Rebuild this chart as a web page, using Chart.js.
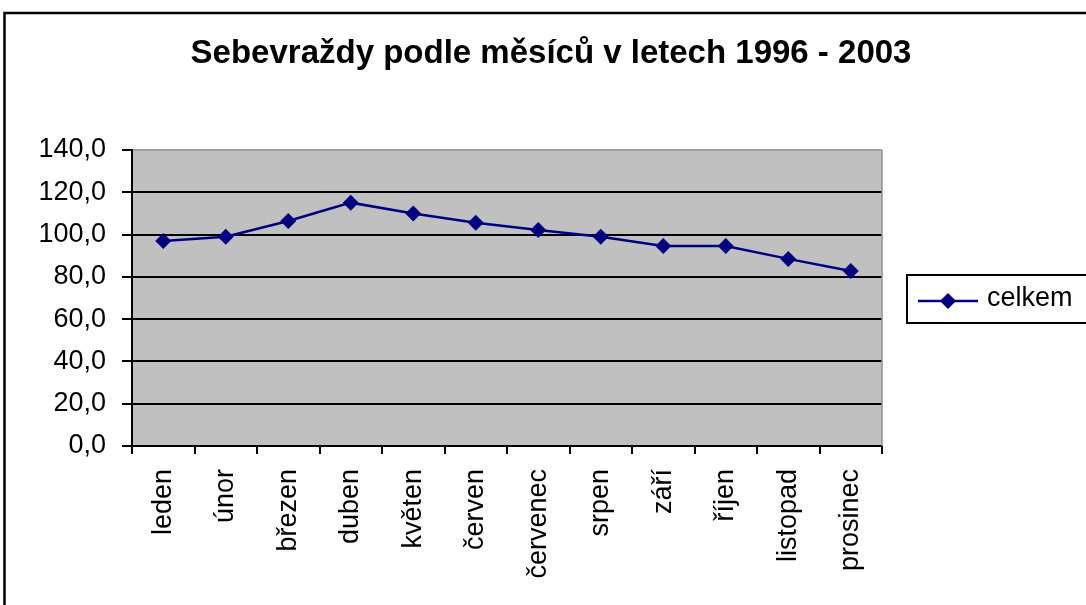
<!DOCTYPE html>
<html>
<head>
<meta charset="utf-8">
<script src="https://cdn.jsdelivr.net/npm/chart.js@4/dist/chart.umd.min.js"></script>
<style>
  html, body { margin: 0; padding: 0; background: #ffffff; }
  #wrap { width: 1086px; height: 605px; }
</style>
</head>
<body>
<div id="wrap"><canvas id="chart-months" width="1086" height="605"></canvas></div>
<script>
// Data
const TITLE = 'Sebevraždy podle měsíců v letech 1996 - 2003';
const months = ['leden', 'únor', 'březen', 'duben', 'květen', 'červen',
                'červenec', 'srpen', 'září', 'říjen', 'listopad', 'prosinec'];
const celkem = [97.0, 99.0, 106.4, 115.1, 110.0, 105.6, 102.2, 99.0, 94.6, 94.6, 88.5, 82.8];
const seriesLabel = 'celkem';

const FONT = "'Liberation Sans', Arial, sans-serif";
const NAVY = '#000080';

// frame, plot background, title, legend
const decor = {
    id: 'decor',
    beforeDraw(chart) {
        const { ctx, chartArea: a } = chart;
        ctx.save();
        ctx.fillStyle = '#ffffff';
        ctx.fillRect(0, 0, chart.width, chart.height);
        // outer frame (continues past the picture)
        ctx.strokeStyle = '#000000';
        ctx.lineWidth = 2.5;
        ctx.strokeRect(4.5, 13, 2000, 2000);
        // plot area
        ctx.fillStyle = '#c0c0c0';
        ctx.fillRect(a.left, a.top, a.right - a.left, a.bottom - a.top);
        // title
        ctx.fillStyle = '#000000';
        ctx.font = 'bold 33px ' + FONT;
        ctx.textAlign = 'center';
        ctx.textBaseline = 'middle';
        ctx.fillText(TITLE, 551, 54);
        ctx.restore();
    },
    beforeDatasetsDraw(chart) {
        const { ctx, chartArea: a } = chart;
        ctx.save();
        ctx.strokeStyle = '#909090';
        ctx.lineWidth = 1.5;
        ctx.beginPath();
        ctx.moveTo(a.right, a.top);
        ctx.lineTo(a.right, a.bottom);
        ctx.stroke();
        ctx.restore();
    },
    afterDraw(chart) {
        const { ctx } = chart;
        const ds = chart.data.datasets[0];
        ctx.save();
        ctx.strokeStyle = '#000000';
        ctx.lineWidth = 2;
        ctx.strokeRect(907, 275, 300, 48);
        // line + diamond
        ctx.strokeStyle = ds.borderColor;
        ctx.lineWidth = ds.borderWidth;
        ctx.beginPath();
        ctx.moveTo(918, 301);
        ctx.lineTo(978, 301);
        ctx.stroke();
        ctx.fillStyle = ds.pointBackgroundColor;
        ctx.beginPath();
        ctx.moveTo(948 - 8, 301);
        ctx.lineTo(948, 301 - 8);
        ctx.lineTo(948 + 8, 301);
        ctx.lineTo(948, 301 + 8);
        ctx.closePath();
        ctx.fill();
        ctx.fillStyle = '#000000';
        ctx.font = '27px ' + FONT;
        ctx.textAlign = 'left';
        ctx.textBaseline = 'middle';
        ctx.fillText(ds.label, 987, 299);
        ctx.restore();
    }
};

new Chart(document.getElementById('chart-months'), {
    type: 'line',
    data: {
        labels: months,
        datasets: [{
            label: seriesLabel,
            data: celkem,
            borderColor: NAVY,
            borderWidth: 2.5,
            backgroundColor: NAVY,
            pointStyle: 'rectRot',
            pointRadius: 8,
            pointBorderWidth: 0,
            pointBackgroundColor: NAVY,
            tension: 0,
            fill: false
        }]
    },
    options: {
        responsive: false,
        animation: false,
        devicePixelRatio: 1,
        layout: { padding: { top: 150, right: 204, left: 0, bottom: 0 } },
        plugins: {
            legend: { display: false },
            title: { display: false },
            tooltip: { enabled: false }
        },
        scales: {
            x: {
                offset: true,
                grid: { offset: true, drawOnChartArea: false, drawTicks: true, tickLength: 8, color: '#000000', lineWidth: 2 },
                border: { color: '#000000', width: 2 },
                ticks: {
                    color: '#000000',
                    font: { family: FONT, size: 27 },
                    minRotation: 90,
                    maxRotation: 90,
                    padding: 15,
                    autoSkip: false
                },
                afterFit: (s) => { s.height = 159; }
            },
            y: {
                min: 0,
                max: 140,
                grid: {
                    color: (c) => c.tick && c.tick.value === 140 ? '#a0a0a0' : '#000000',
                    tickColor: '#000000',
                    lineWidth: 2,
                    tickLength: 10
                },
                border: { color: '#000000', width: 2 },
                ticks: {
                    stepSize: 20,
                    color: '#000000',
                    font: { family: FONT, size: 27 },
                    padding: 16,
                    callback: (v) => v.toFixed(1).replace('.', ',')
                },
                afterFit: (s) => { s.width = 132; }
            }
        }
    },
    plugins: [decor]
});
</script>
</body>
</html>
